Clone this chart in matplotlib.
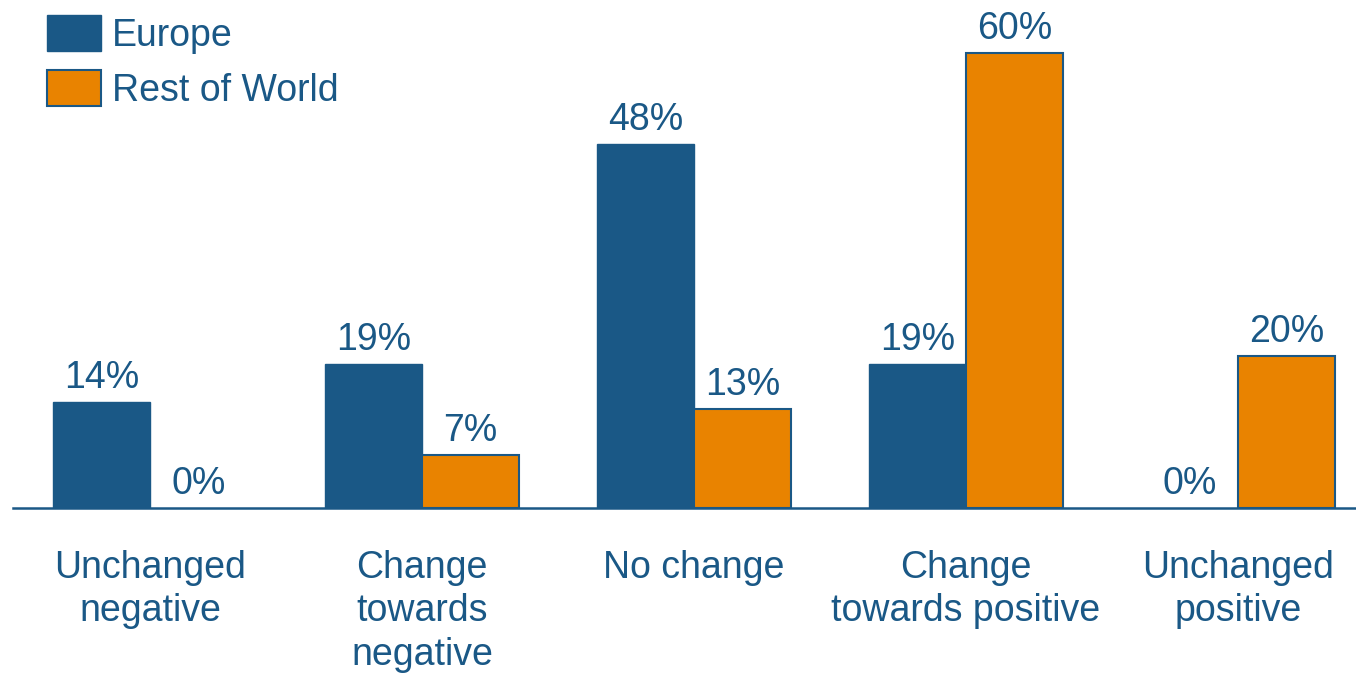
import numpy as np
import matplotlib.pyplot as plt

categories = ["Unchanged\nnegative", "Change\ntowards\nnegative", "No change",
              "Change\ntowards positive", "Unchanged\npositive"]
europe = [14, 19, 48, 19, 0]
rest_of_world = [0, 7, 13, 60, 20]

BLUE = "#1A5886"
ORANGE = "#E98300"
FS = 27

plt.rcParams['font.family'] = ['Liberation Sans', 'DejaVu Sans']

fig = plt.figure(figsize=(13.56, 6.73), dpi=100)
ax = fig.add_axes([13 / 1356, 165 / 673, 1 - 13 / 1356, 508 / 673])

x = np.arange(len(categories))
w = 0.357
b1 = ax.bar(x - w / 2, europe, w, color=BLUE, edgecolor=BLUE, linewidth=1,
            label="Europe")
b2 = ax.bar(x + w / 2, rest_of_world, w, color=ORANGE, edgecolor=BLUE, linewidth=1.5,
            label="Rest of World")

for bars, vals in ((b1, europe), (b2, rest_of_world)):
    for bar, v in zip(bars, vals):
        if v == 0:
            bar.set_linewidth(0)
        ax.annotate(f"{v}%", (bar.get_x() + bar.get_width() / 2, v),
                    xytext=(0, 6), textcoords="offset pixels",
                    ha="center", va="bottom", fontsize=FS, color=BLUE)

ax.set_xlim(-0.504, 4.434)
ax.set_ylim(0, 67)
ax.set_xticks(x)
ax.set_xticklabels(categories, fontsize=FS, color=BLUE, linespacing=1.27, va="top")
ax.tick_params(axis="x", length=0, pad=30)
ax.set_yticks([])
for s in ("top", "right", "left"):
    ax.spines[s].set_visible(False)
ax.spines["bottom"].set_color(BLUE)
ax.spines["bottom"].set_linewidth(1.8)

leg = ax.legend(handles=[b1, b2], loc="upper left",
                bbox_to_anchor=(47 / 1356, 1 - 15 / 673),
                bbox_transform=fig.transFigure, frameon=False, fontsize=FS,
                handlelength=1.44, handleheight=1.12, handletextpad=0.3,
                labelspacing=0.42, borderpad=0, borderaxespad=0)
for t in leg.get_texts():
    t.set_color(BLUE)
for h, lw in zip(leg.legend_handles, (1, 1.5)):
    h.set_linewidth(lw)

fig.savefig("out.png", dpi=100)
